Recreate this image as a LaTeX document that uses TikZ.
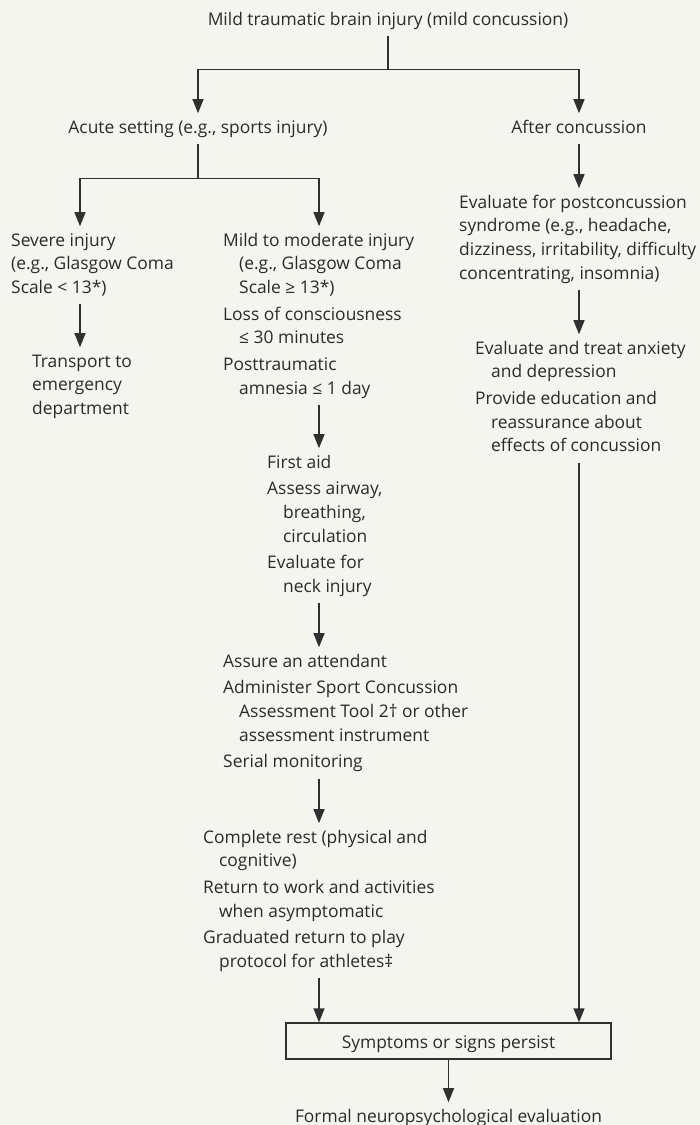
\documentclass[tikz,border=0pt]{standalone}
\usepackage{fontspec}
\setmainfont{Open Sans}
\usetikzlibrary{arrows.meta,calc}
\definecolor{bgc}{HTML}{F5F5EF}
\definecolor{ink}{HTML}{2A2A2A}
\definecolor{rulec}{HTML}{303030}
% one line of a text block, plain or hanging-indented
\newcommand\Lx[1]{\hbox{\strut#1}}
\newcommand\Ix[1]{\hbox{\strut\kern16pt#1}}
\newcommand\Gap{\vskip3pt}
\newcommand\Blk[1]{\vtop{#1}}
\begin{document}
\begin{tikzpicture}[x=1pt,y=-1pt,
  every node/.style={inner sep=0pt, text=ink, font=\fontsize{17.4}{23.7}\selectfont},
  blk/.style={anchor=base west},
  mid/.style={anchor=base},
  line/.style={draw=rulec, line width=1.3pt},
  arr/.style={line, -{Triangle[length=14pt,width=11pt]}}]

\fill[bgc] (0,0) rectangle (700,1125);
\useasboundingbox (0,0) rectangle (700,1125);

% columns of the vertical connectors
\coordinate (colA) at (80,0);
\coordinate (colB) at (319,0);
\coordinate (colC) at (579,0);

% nodes
\node[mid] (title) at (388,25) {\strut Mild traumatic brain injury (mild concussion)};
\node[mid] (acute) at (198,133) {\strut Acute setting (e.g., sports injury)};
\node[mid] (after) at (579,133) {\strut After concussion};

\node[blk] (severe) at (11,246) {\Blk{%
  \Lx{Severe injury}
  \Lx{(e.g., Glasgow Coma}
  \Lx{Scale < 13*)}}};

\node[blk] (transport) at (32,367) {\Blk{%
  \Lx{Transport to}
  \Lx{emergency}
  \Lx{department}}};

\node[blk] (mild) at (223,246) {\Blk{%
  \Lx{Mild to moderate injury}
  \Ix{(e.g., Glasgow Coma}
  \Ix{Scale ≥ 13*)}\Gap
  \Lx{Loss of consciousness}
  \Ix{≤ 30 minutes}\Gap
  \Lx{Posttraumatic}
  \Ix{amnesia ≤ 1 day}}};

\node[blk] (aid) at (267,468) {\Blk{%
  \Lx{First aid}\Gap
  \Lx{Assess airway,}
  \Ix{breathing,}
  \Ix{circulation}\Gap
  \Lx{Evaluate for}
  \Ix{neck injury}}};

\node[blk] (attend) at (223,667) {\Blk{%
  \Lx{Assure an attendant}\Gap
  \Lx{Administer Sport Concussion}
  \Ix{Assessment Tool 2† or other}
  \Ix{assessment instrument}\Gap
  \Lx{Serial monitoring}}};

\node[blk] (rest) at (203,843) {\Blk{%
  \Lx{Complete rest (physical and}
  \Ix{cognitive)}\Gap
  \Lx{Return to work and activities}
  \Ix{when asymptomatic}\Gap
  \Lx{Graduated return to play}
  \Ix{protocol for athletes‡}}};

\node[blk] (post) at (459,208) {\Blk{%
  \Lx{Evaluate for postconcussion}
  \Lx{syndrome (e.g., headache,}
  \Lx{dizziness, irritability, difficulty}
  \Lx{concentrating, insomnia)}}};

\node[blk] (anx) at (475,354) {\Blk{%
  \Lx{Evaluate and treat anxiety}
  \Ix{and depression}\Gap
  \Lx{Provide education and}
  \Ix{reassurance about}
  \Ix{effects of concussion}}};

\node[draw=rulec, line width=1.3pt, minimum width=325pt, minimum height=36pt,
      text height=14pt, text depth=0pt] (box) at (448.5,1041) {Symptoms or signs persist};

\node[mid] (formal) at (448.5,1122) {\strut Formal neuropsychological evaluation};

% connectors
\draw[line] ([yshift=-3.5pt]title.south) -- ++(0,34) coordinate (jt);
\draw[arr] (jt) -| ([yshift=3pt]acute.north);
\draw[arr] (jt) -| ([yshift=3pt]after.north);

\draw[line] ([yshift=-3.5pt]acute.south) -- ++(0,35) coordinate (ja);
\draw[arr] (ja) -| ($(severe.north -| colA)+(0,-3)$);
\draw[arr] (ja) -| ($(mild.north -| colB)+(0,-3)$);

\draw[arr] ($(severe.south -| colA)+(0,3.5)$) -- ($(transport.north -| colA)+(0,-3)$);
\draw[arr] ($(mild.south -| colB)+(0,3.5)$) -- ($(aid.north -| colB)+(0,-3)$);
\draw[arr] ($(aid.south -| colB)+(0,3.5)$) -- ($(attend.north -| colB)+(0,-3)$);
\draw[arr] ($(attend.south -| colB)+(0,3.5)$) -- ($(rest.north -| colB)+(0,-3)$);
\draw[arr] ($(rest.south -| colB)+(0,3.5)$) -- (box.north -| colB);

\draw[arr] ($(after.south -| colC)+(0,3.5)$) -- ($(post.north -| colC)+(0,-3)$);
\draw[arr] ($(post.south -| colC)+(0,3.5)$) -- ($(anx.north -| colC)+(0,-3)$);
\draw[arr] ($(anx.south -| colC)+(0,3.5)$) -- (box.north -| colC);

\draw[arr] (box.south) -- ($(formal.north)+(0,-3)$);
\end{tikzpicture}
\end{document}
